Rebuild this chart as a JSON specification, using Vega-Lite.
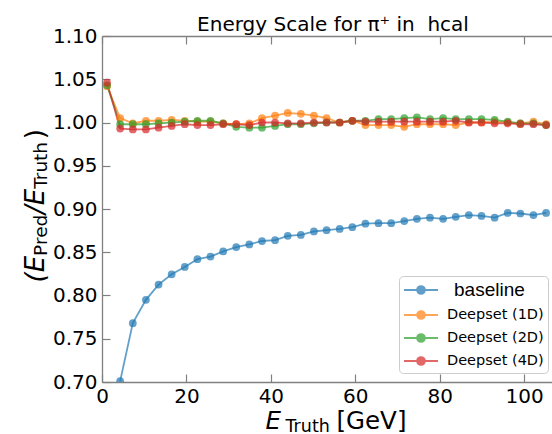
{
  "$schema": "https://vega.github.io/schema/vega-lite/v6.json",
  "autosize": {"type": "none"},
  "padding": {"left": 102, "top": 36, "right": 0, "bottom": 52},
  "width": 450,
  "height": 346,
  "title": {"text": "Energy Scale for π⁺ in\u00a0 hcal", "anchor": "middle", "frame": "group", "dx": 6, "offset": -25, "baseline": "alphabetic", "fontSize": 20, "font": "DejaVu Sans", "fontWeight": "normal", "color": "#000"},
  "config": {"view": {"stroke": null}, "font": "DejaVu Sans", "axis": {"grid": false}},
  "data": {"values": [
    {"model": "baseline", "energy": 4.3, "ratio": 0.701},
    {"model": "baseline", "energy": 7.3, "ratio": 0.768},
    {"model": "baseline", "energy": 10.4, "ratio": 0.795},
    {"model": "baseline", "energy": 13.4, "ratio": 0.8126},
    {"model": "baseline", "energy": 16.5, "ratio": 0.8245},
    {"model": "baseline", "energy": 19.6, "ratio": 0.833},
    {"model": "baseline", "energy": 22.6, "ratio": 0.842},
    {"model": "baseline", "energy": 25.7, "ratio": 0.845},
    {"model": "baseline", "energy": 28.7, "ratio": 0.851},
    {"model": "baseline", "energy": 31.8, "ratio": 0.856},
    {"model": "baseline", "energy": 34.9, "ratio": 0.859},
    {"model": "baseline", "energy": 37.9, "ratio": 0.863},
    {"model": "baseline", "energy": 41.0, "ratio": 0.864},
    {"model": "baseline", "energy": 44.0, "ratio": 0.869},
    {"model": "baseline", "energy": 47.1, "ratio": 0.870},
    {"model": "baseline", "energy": 50.2, "ratio": 0.874},
    {"model": "baseline", "energy": 53.2, "ratio": 0.8755},
    {"model": "baseline", "energy": 56.3, "ratio": 0.877},
    {"model": "baseline", "energy": 59.3, "ratio": 0.879},
    {"model": "baseline", "energy": 62.4, "ratio": 0.883},
    {"model": "baseline", "energy": 65.5, "ratio": 0.8836},
    {"model": "baseline", "energy": 68.5, "ratio": 0.8836},
    {"model": "baseline", "energy": 71.6, "ratio": 0.886},
    {"model": "baseline", "energy": 74.6, "ratio": 0.8886},
    {"model": "baseline", "energy": 77.7, "ratio": 0.890},
    {"model": "baseline", "energy": 80.8, "ratio": 0.8886},
    {"model": "baseline", "energy": 83.8, "ratio": 0.891},
    {"model": "baseline", "energy": 86.9, "ratio": 0.893},
    {"model": "baseline", "energy": 89.9, "ratio": 0.892},
    {"model": "baseline", "energy": 93.0, "ratio": 0.890},
    {"model": "baseline", "energy": 96.1, "ratio": 0.8955},
    {"model": "baseline", "energy": 99.1, "ratio": 0.8948},
    {"model": "baseline", "energy": 102.2, "ratio": 0.893},
    {"model": "baseline", "energy": 105.2, "ratio": 0.8955},
    {"model": "Deepset (1D)", "energy": 1.2, "ratio": 1.042},
    {"model": "Deepset (1D)", "energy": 4.3, "ratio": 1.005},
    {"model": "Deepset (1D)", "energy": 7.3, "ratio": 0.999},
    {"model": "Deepset (1D)", "energy": 10.4, "ratio": 1.002},
    {"model": "Deepset (1D)", "energy": 13.4, "ratio": 1.002},
    {"model": "Deepset (1D)", "energy": 16.5, "ratio": 1.003},
    {"model": "Deepset (1D)", "energy": 19.6, "ratio": 1.002},
    {"model": "Deepset (1D)", "energy": 22.6, "ratio": 1.001},
    {"model": "Deepset (1D)", "energy": 25.7, "ratio": 1.001},
    {"model": "Deepset (1D)", "energy": 28.7, "ratio": 0.999},
    {"model": "Deepset (1D)", "energy": 31.8, "ratio": 0.998},
    {"model": "Deepset (1D)", "energy": 34.9, "ratio": 0.999},
    {"model": "Deepset (1D)", "energy": 37.9, "ratio": 1.005},
    {"model": "Deepset (1D)", "energy": 41.0, "ratio": 1.008},
    {"model": "Deepset (1D)", "energy": 44.0, "ratio": 1.011},
    {"model": "Deepset (1D)", "energy": 47.1, "ratio": 1.010},
    {"model": "Deepset (1D)", "energy": 50.2, "ratio": 1.008},
    {"model": "Deepset (1D)", "energy": 53.2, "ratio": 1.005},
    {"model": "Deepset (1D)", "energy": 56.3, "ratio": 1.000},
    {"model": "Deepset (1D)", "energy": 59.3, "ratio": 1.002},
    {"model": "Deepset (1D)", "energy": 62.4, "ratio": 0.997},
    {"model": "Deepset (1D)", "energy": 65.5, "ratio": 0.997},
    {"model": "Deepset (1D)", "energy": 68.5, "ratio": 0.997},
    {"model": "Deepset (1D)", "energy": 71.6, "ratio": 0.995},
    {"model": "Deepset (1D)", "energy": 74.6, "ratio": 0.998},
    {"model": "Deepset (1D)", "energy": 77.7, "ratio": 0.998},
    {"model": "Deepset (1D)", "energy": 80.8, "ratio": 0.998},
    {"model": "Deepset (1D)", "energy": 83.8, "ratio": 0.997},
    {"model": "Deepset (1D)", "energy": 86.9, "ratio": 1.000},
    {"model": "Deepset (1D)", "energy": 89.9, "ratio": 1.000},
    {"model": "Deepset (1D)", "energy": 93.0, "ratio": 1.001},
    {"model": "Deepset (1D)", "energy": 96.1, "ratio": 1.000},
    {"model": "Deepset (1D)", "energy": 99.1, "ratio": 0.999},
    {"model": "Deepset (1D)", "energy": 102.2, "ratio": 1.001},
    {"model": "Deepset (1D)", "energy": 105.2, "ratio": 0.998},
    {"model": "Deepset (2D)", "energy": 1.2, "ratio": 1.043},
    {"model": "Deepset (2D)", "energy": 4.3, "ratio": 0.998},
    {"model": "Deepset (2D)", "energy": 7.3, "ratio": 0.998},
    {"model": "Deepset (2D)", "energy": 10.4, "ratio": 0.998},
    {"model": "Deepset (2D)", "energy": 13.4, "ratio": 0.999},
    {"model": "Deepset (2D)", "energy": 16.5, "ratio": 1.000},
    {"model": "Deepset (2D)", "energy": 19.6, "ratio": 1.001},
    {"model": "Deepset (2D)", "energy": 22.6, "ratio": 1.002},
    {"model": "Deepset (2D)", "energy": 25.7, "ratio": 1.002},
    {"model": "Deepset (2D)", "energy": 28.7, "ratio": 0.999},
    {"model": "Deepset (2D)", "energy": 31.8, "ratio": 0.995},
    {"model": "Deepset (2D)", "energy": 34.9, "ratio": 0.994},
    {"model": "Deepset (2D)", "energy": 37.9, "ratio": 0.994},
    {"model": "Deepset (2D)", "energy": 41.0, "ratio": 0.996},
    {"model": "Deepset (2D)", "energy": 44.0, "ratio": 0.998},
    {"model": "Deepset (2D)", "energy": 47.1, "ratio": 0.998},
    {"model": "Deepset (2D)", "energy": 50.2, "ratio": 0.999},
    {"model": "Deepset (2D)", "energy": 53.2, "ratio": 1.000},
    {"model": "Deepset (2D)", "energy": 56.3, "ratio": 1.000},
    {"model": "Deepset (2D)", "energy": 59.3, "ratio": 1.002},
    {"model": "Deepset (2D)", "energy": 62.4, "ratio": 1.002},
    {"model": "Deepset (2D)", "energy": 65.5, "ratio": 1.004},
    {"model": "Deepset (2D)", "energy": 68.5, "ratio": 1.004},
    {"model": "Deepset (2D)", "energy": 71.6, "ratio": 1.005},
    {"model": "Deepset (2D)", "energy": 74.6, "ratio": 1.006},
    {"model": "Deepset (2D)", "energy": 77.7, "ratio": 1.004},
    {"model": "Deepset (2D)", "energy": 80.8, "ratio": 1.005},
    {"model": "Deepset (2D)", "energy": 83.8, "ratio": 1.004},
    {"model": "Deepset (2D)", "energy": 86.9, "ratio": 1.004},
    {"model": "Deepset (2D)", "energy": 89.9, "ratio": 1.004},
    {"model": "Deepset (2D)", "energy": 93.0, "ratio": 1.003},
    {"model": "Deepset (2D)", "energy": 96.1, "ratio": 1.001},
    {"model": "Deepset (2D)", "energy": 99.1, "ratio": 0.999},
    {"model": "Deepset (2D)", "energy": 102.2, "ratio": 0.999},
    {"model": "Deepset (2D)", "energy": 105.2, "ratio": 0.997},
    {"model": "Deepset (4D)", "energy": 1.2, "ratio": 1.046},
    {"model": "Deepset (4D)", "energy": 4.3, "ratio": 0.993},
    {"model": "Deepset (4D)", "energy": 7.3, "ratio": 0.992},
    {"model": "Deepset (4D)", "energy": 10.4, "ratio": 0.992},
    {"model": "Deepset (4D)", "energy": 13.4, "ratio": 0.994},
    {"model": "Deepset (4D)", "energy": 16.5, "ratio": 0.996},
    {"model": "Deepset (4D)", "energy": 19.6, "ratio": 0.998},
    {"model": "Deepset (4D)", "energy": 22.6, "ratio": 0.997},
    {"model": "Deepset (4D)", "energy": 25.7, "ratio": 0.997},
    {"model": "Deepset (4D)", "energy": 28.7, "ratio": 0.998},
    {"model": "Deepset (4D)", "energy": 31.8, "ratio": 0.998},
    {"model": "Deepset (4D)", "energy": 34.9, "ratio": 0.997},
    {"model": "Deepset (4D)", "energy": 37.9, "ratio": 1.000},
    {"model": "Deepset (4D)", "energy": 41.0, "ratio": 1.000},
    {"model": "Deepset (4D)", "energy": 44.0, "ratio": 0.999},
    {"model": "Deepset (4D)", "energy": 47.1, "ratio": 0.999},
    {"model": "Deepset (4D)", "energy": 50.2, "ratio": 1.000},
    {"model": "Deepset (4D)", "energy": 53.2, "ratio": 1.000},
    {"model": "Deepset (4D)", "energy": 56.3, "ratio": 1.000},
    {"model": "Deepset (4D)", "energy": 59.3, "ratio": 1.002},
    {"model": "Deepset (4D)", "energy": 62.4, "ratio": 1.001},
    {"model": "Deepset (4D)", "energy": 65.5, "ratio": 1.001},
    {"model": "Deepset (4D)", "energy": 68.5, "ratio": 1.001},
    {"model": "Deepset (4D)", "energy": 71.6, "ratio": 1.001},
    {"model": "Deepset (4D)", "energy": 74.6, "ratio": 1.001},
    {"model": "Deepset (4D)", "energy": 77.7, "ratio": 1.001},
    {"model": "Deepset (4D)", "energy": 80.8, "ratio": 1.001},
    {"model": "Deepset (4D)", "energy": 83.8, "ratio": 1.002},
    {"model": "Deepset (4D)", "energy": 86.9, "ratio": 1.000},
    {"model": "Deepset (4D)", "energy": 89.9, "ratio": 1.000},
    {"model": "Deepset (4D)", "energy": 93.0, "ratio": 0.999},
    {"model": "Deepset (4D)", "energy": 96.1, "ratio": 0.999},
    {"model": "Deepset (4D)", "energy": 99.1, "ratio": 0.998},
    {"model": "Deepset (4D)", "energy": 102.2, "ratio": 0.998},
    {"model": "Deepset (4D)", "energy": 105.2, "ratio": 0.997}
  ]},
  "layer": [
    {
      "mark": {"type": "line", "strokeWidth": 1.8, "opacity": 0.7, "clip": true, "point": {"filled": true, "size": 60, "opacity": 0.7}},
      "encoding": {
        "x": {"field": "energy", "type": "quantitative", "scale": {"domain": [0, 106.6], "nice": false, "zero": false},
          "axis": {"orient": "bottom", "values": [0, 20, 40, 60, 80, 100], "format": "d", "tickSize": -8, "tickColor": "#808080", "tickWidth": 1.2, "domainColor": "#808080", "domainWidth": 1.3, "labelPadding": 12, "labelFont": "DejaVu Sans", "labelFontSize": 20, "labelColor": "#000", "labelFlush": false, "labelOverlap": false,
            "title": "E", "titleFont": "DejaVu Sans", "titleFontStyle": "italic", "titleFontWeight": "normal", "titleFontSize": 24.5, "titleColor": "#000", "titleAlign": "left", "titleBaseline": "alphabetic", "titleX": 163, "titleY": 46}},
        "y": {"field": "ratio", "type": "quantitative", "scale": {"domain": [0.7, 1.1], "nice": false, "zero": false},
          "axis": {"orient": "left", "values": [0.7, 0.75, 0.8, 0.85, 0.9, 0.95, 1.0, 1.05, 1.1], "format": ".2f", "tickSize": -8, "tickColor": "#808080", "tickWidth": 1.2, "domainColor": "#808080", "domainWidth": 1.3, "labelPadding": 13, "labelFont": "DejaVu Sans", "labelFontSize": 20, "labelColor": "#000", "labelFlush": false, "labelOverlap": false,
            "title": "(E", "titleFont": "DejaVu Sans", "titleFontStyle": "italic", "titleFontWeight": "normal", "titleFontSize": 26, "titleColor": "#000", "titleAngle": 270, "titleAlign": "left", "titleBaseline": "alphabetic", "titleX": -59, "titleY": 246}},
        "color": {"field": "model", "type": "nominal",
          "scale": {"domain": ["baseline", "Deepset (1D)", "Deepset (2D)", "Deepset (4D)"], "range": ["#1f77b4", "#ff7f0e", "#2ca02c", "#d62728"]},
          "legend": {"title": null, "orient": "none", "legendX": 297, "legendY": 240,
            "symbolType": "M-1,0H2.78M1.33,0A0.44,0.44 0 1,1 0.45,0A0.44,0.44 0 1,1 1.33,0Z",
            "symbolSize": 324, "symbolStrokeWidth": 1.8, "symbolOpacity": 0.7,
            "labelFont": "DejaVu Sans", "labelFontSize": 14.5, "labelColor": "#000", "labelOffset": 24,
            "padding": 4, "rowPadding": 5, "fillColor": "rgba(255,255,255,0.8)", "strokeColor": "#cccccc", "cornerRadius": 4,
            "encode": {
              "symbols": {"update": {"fill": {"scale": "color", "field": "value"}}},
              "labels": {"update": {"fontSize": {"signal": "datum.value === 'baseline' ? 19 : 14.5"}, "font": {"signal": "datum.value === 'baseline' ? 'Liberation Sans' : 'DejaVu Sans'"}, "dx": {"signal": "datum.value === 'baseline' ? 7 : 0"}}}
            }}}
      }
    },
    {
      "mark": {"type": "point", "opacity": 0},
      "encoding": {
        "x": {"field": "energy", "type": "quantitative", "axis": {"orient": "top", "values": [0, 20, 40, 60, 80, 100], "labels": false, "tickSize": -8, "tickColor": "#808080", "tickWidth": 1.2, "domainColor": "#808080", "domainWidth": 1.3, "title": null}},
        "y": {"field": "ratio", "type": "quantitative", "axis": {"orient": "left", "domain": false, "ticks": false, "labels": false,
          "title": "Pred", "titleFont": "DejaVu Sans", "titleFontWeight": "normal", "titleFontSize": 18.5, "titleColor": "#000", "titleAngle": 270, "titleAlign": "left", "titleBaseline": "alphabetic", "titleX": -56, "titleY": 219.4}}
      }
    },
    {
      "mark": {"type": "point", "opacity": 0},
      "encoding": {
        "x": {"field": "energy", "type": "quantitative", "axis": {"orient": "bottom", "domain": false, "ticks": false, "labels": false,
          "title": "Truth", "titleFont": "DejaVu Sans", "titleFontWeight": "normal", "titleFontSize": 17.5, "titleColor": "#000", "titleAlign": "left", "titleBaseline": "alphabetic", "titleX": 183, "titleY": 49}},
        "y": {"field": "ratio", "type": "quantitative", "axis": {"orient": "left", "domain": false, "ticks": false, "labels": false,
          "title": "/E", "titleFont": "DejaVu Sans", "titleFontStyle": "italic", "titleFontWeight": "normal", "titleFontSize": 26, "titleColor": "#000", "titleAngle": 270, "titleAlign": "left", "titleBaseline": "alphabetic", "titleX": -59, "titleY": 177.5}}
      }
    },
    {
      "mark": {"type": "point", "opacity": 0},
      "encoding": {
        "x": {"field": "energy", "type": "quantitative", "axis": {"orient": "bottom", "domain": false, "ticks": false, "labels": false,
          "title": "[GeV]", "titleFont": "DejaVu Sans", "titleFontWeight": "normal", "titleFontSize": 24.5, "titleColor": "#000", "titleAlign": "left", "titleBaseline": "alphabetic", "titleX": 234, "titleY": 46}},
        "y": {"field": "ratio", "type": "quantitative", "axis": {"orient": "left", "domain": false, "ticks": false, "labels": false,
          "title": "Truth", "titleFont": "DejaVu Sans", "titleFontWeight": "normal", "titleFontSize": 18.5, "titleColor": "#000", "titleAngle": 270, "titleAlign": "left", "titleBaseline": "alphabetic", "titleX": -56, "titleY": 152.3}}
      }
    },
    {
      "mark": {"type": "point", "opacity": 0},
      "encoding": {
        "x": {"field": "energy", "type": "quantitative", "axis": null},
        "y": {"field": "ratio", "type": "quantitative", "axis": {"orient": "left", "domain": false, "ticks": false, "labels": false,
          "title": ")", "titleFont": "DejaVu Sans", "titleFontWeight": "normal", "titleFontSize": 26, "titleColor": "#000", "titleAngle": 270, "titleAlign": "left", "titleBaseline": "alphabetic", "titleX": -59, "titleY": 102.7}}
      }
    }
  ],
  "resolve": {"axis": {"x": "independent", "y": "independent"}}
}
